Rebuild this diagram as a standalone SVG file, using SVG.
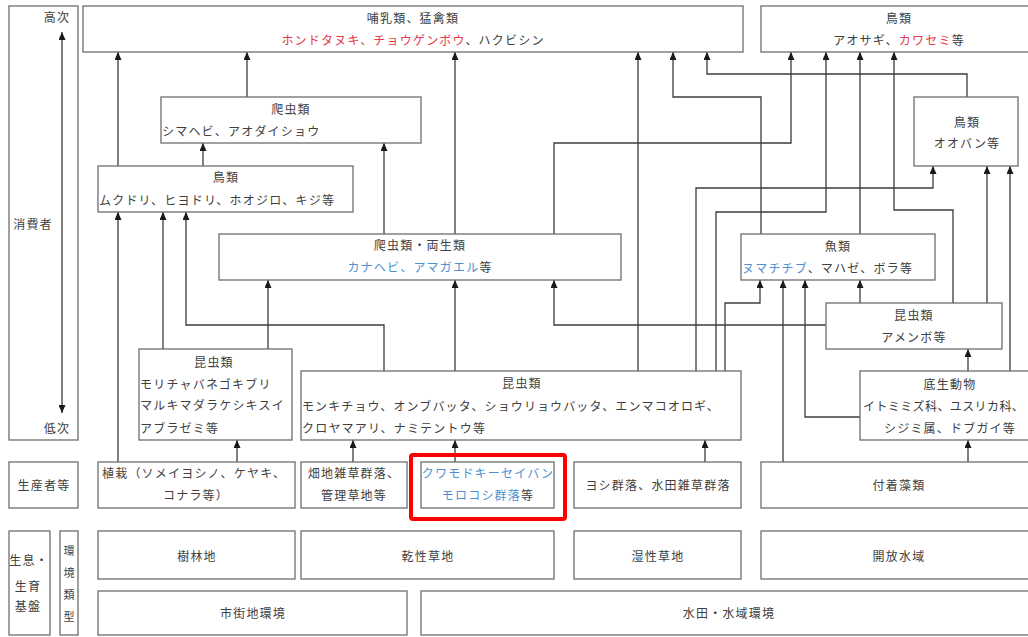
<svg xmlns="http://www.w3.org/2000/svg" width="1028" height="637" viewBox="0 0 1028 637">
<style>
.box{fill:#fff;stroke:#6e6e6e;stroke-width:1.3}
.t{font-family:"Noto Sans CJK JP","Noto Sans CJK SC",sans-serif;font-size:12px;fill:#404040;letter-spacing:1.2px}
.c{text-anchor:middle}
.red{fill:#e8374a}
.blue{fill:#4f8fd0}
.ln{fill:none;stroke:#3c3c3c;stroke-width:1.3;marker-end:url(#ah)}
.hl{fill:none;stroke:#ff0000;stroke-width:4}
</style>
<defs>
<marker id="ah" viewBox="0 0 8 7" refX="8" refY="3.5" markerWidth="8" markerHeight="7" markerUnits="userSpaceOnUse" orient="auto">
<path d="M0,0 L8,3.5 L0,7 z" fill="#1a1a1a"/>
</marker>
<marker id="ahs" viewBox="0 0 8 7" refX="0" refY="3.5" markerWidth="8" markerHeight="7" markerUnits="userSpaceOnUse" orient="auto">
<path d="M8,0 L0,3.5 L8,7 z" fill="#1a1a1a"/>
</marker>
</defs>
<rect x="0" y="0" width="1028" height="637" fill="#fff"/>

<g id="axis">
<rect class="box" x="9" y="6" width="69" height="434"/>
<text class="t c" x="57" y="22">高次</text>
<text class="t c" x="33" y="228.5">消費者</text>
<text class="t c" x="57" y="432.5">低次</text>
<path d="M62,32 V413" fill="none" stroke="#3c3c3c" stroke-width="1.3" marker-start="url(#ahs)" marker-end="url(#ah)"/>
</g>

<g id="connectors">
<path class="ln" d="M118,166 V52"/>
<path class="ln" d="M247,97 V52"/>
<path class="ln" d="M455,234 V52"/>
<path class="ln" d="M638,371 V52"/>
<path class="ln" d="M761,234 V97 H673 V52"/>
<path class="ln" d="M967,97 V74 H707 V52"/>
<path class="ln" d="M554,234 V143 H791 V52"/>
<path class="ln" d="M716,371 V212 H826 V52"/>
<path class="ln" d="M860,234 V52"/>
<path class="ln" d="M953,303 V210 H894 V52"/>
<path class="ln" d="M696,371 V188 H933 V166"/>
<path class="ln" d="M987,303 V166"/>
<path class="ln" d="M1010,371 V166"/>
<path class="ln" d="M203,166 V143"/>
<path class="ln" d="M384,234 V143"/>
<path class="ln" d="M118,462 V212"/>
<path class="ln" d="M163,349 V212"/>
<path class="ln" d="M384,371 V325 H186 V212"/>
<path class="ln" d="M268,349 V280" stroke-width="1.8"/>
<path class="ln" d="M455,371 V280"/>
<path class="ln" d="M826,325 H554 V280"/>
<path class="ln" d="M725,371 V303 H760 V280"/>
<path class="ln" d="M783,462 V280"/>
<path class="ln" d="M860,417 H805 V280"/>
<path class="ln" d="M860,303 V280"/>
<path class="ln" d="M968,371 V349"/>
<path class="ln" d="M968,462 V440"/>
<path class="ln" d="M237,462 V440"/>
<path class="ln" d="M353,462 V440"/>
<path class="ln" d="M455,462 V440"/>
<path class="ln" d="M705,462 V440"/>
</g>

<g id="mammals">
<rect class="box" x="83" y="6" width="660" height="46"/>
<text class="t c" x="413" y="22.5">哺乳類、猛禽類</text>
<text class="t c" x="413" y="44.5"><tspan class="red">ホンドタヌキ、チョウゲンボウ</tspan>、ハクビシン</text>
</g>

<g id="birds-top">
<rect class="box" x="761" y="6" width="280" height="46"/>
<text class="t c" x="899" y="22.5">鳥類</text>
<text class="t c" x="899" y="44.5">アオサギ、<tspan class="red">カワセミ</tspan>等</text>
</g>

<g id="reptiles">
<rect class="box" x="161" y="97" width="260" height="46"/>
<text class="t c" x="291" y="114">爬虫類</text>
<text class="t" x="162" y="136">シマヘビ、アオダイショウ</text>
</g>

<g id="birds-ooban">
<rect class="box" x="914" y="97" width="104" height="69"/>
<text class="t c" x="967" y="126.5">鳥類</text>
<text class="t c" x="967" y="147.5">オオバン等</text>
</g>

<g id="birds-land">
<rect class="box" x="98" y="166" width="255" height="46"/>
<text class="t c" x="226" y="182">鳥類</text>
<text class="t" x="99" y="204.5">ムクドリ、ヒヨドリ、ホオジロ、キジ等</text>
</g>

<g id="reptiles-amphibians">
<rect class="box" x="219" y="234" width="402" height="46"/>
<text class="t c" x="420" y="249.5">爬虫類・両生類</text>
<text class="t c" x="420" y="272"><tspan class="blue">カナヘビ、アマガエル</tspan>等</text>
</g>

<g id="fish">
<rect class="box" x="741" y="234" width="194" height="46"/>
<text class="t c" x="838" y="251">魚類</text>
<text class="t" x="742" y="272.5"><tspan class="blue">ヌマチチブ</tspan>、マハゼ、ボラ等</text>
</g>

<g id="insects-water">
<rect class="box" x="826" y="303" width="176" height="46"/>
<text class="t c" x="914" y="319.5">昆虫類</text>
<text class="t c" x="914" y="341.5">アメンボ等</text>
</g>

<g id="insects-forest">
<rect class="box" x="139" y="349" width="153" height="91"/>
<text class="t c" x="214" y="366.5">昆虫類</text>
<text class="t" x="140" y="388.5">モリチャバネゴキブリ</text>
<text class="t" x="140" y="410">マルキマダラケシキスイ</text>
<text class="t" x="140" y="432.5">アブラゼミ等</text>
</g>

<g id="insects-grass">
<rect class="box" x="301" y="371" width="440" height="69"/>
<text class="t c" x="522" y="387.5">昆虫類</text>
<text class="t" x="302" y="410.5" textLength="418" lengthAdjust="spacing">モンキチョウ、オンブバッタ、ショウリョウバッタ、エンマコオロギ、</text>
<text class="t" x="302" y="432.5">クロヤマアリ、ナミテントウ等</text>
</g>

<g id="benthos">
<rect class="box" x="860" y="371" width="180" height="69"/>
<text class="t c" x="950" y="388.5">底生動物</text>
<text class="t" x="863" y="411" textLength="162" lengthAdjust="spacing">イトミミズ科、ユスリカ科、</text>
<text class="t c" x="950" y="432.5">シジミ属、ドブガイ等</text>
</g>

<g id="producers-label">
<rect class="box" x="9" y="462" width="69" height="46"/>
<text class="t c" x="44" y="489.5">生産者等</text>
</g>

<g id="planting">
<rect class="box" x="98" y="462" width="197" height="46"/>
<text class="t" x="102" y="477.5">植栽（ソメイヨシノ、ケヤキ、</text>
<text class="t c" x="196" y="499.5">コナラ等）</text>
</g>

<g id="field-weeds">
<rect class="box" x="301" y="462" width="106" height="46"/>
<text class="t c" x="354" y="477.5">畑地雑草群落、</text>
<text class="t c" x="354" y="499.5">管理草地等</text>
</g>

<g id="kuwamodoki">
<rect class="box" x="421" y="462" width="133" height="46"/>
<text class="t c" x="488" y="477.5"><tspan class="blue">クワモドキーセイバン</tspan></text>
<text class="t c" x="488" y="499.5"><tspan class="blue">モロコシ群落</tspan>等</text>
<rect class="hl" x="411" y="455" width="154" height="64" rx="2"/>
</g>

<g id="reed">
<rect class="box" x="574" y="462" width="167" height="46"/>
<text class="t c" x="658" y="489.5">ヨシ群落、水田雑草群落</text>
</g>

<g id="algae">
<rect class="box" x="761" y="462" width="280" height="46"/>
<text class="t c" x="899" y="489.5">付着藻類</text>
</g>

<g id="habitat-label">
<rect class="box" x="9" y="531" width="41" height="104"/>
<text class="t c" x="29" y="564.5">生息・</text>
<text class="t c" x="28" y="590.5">生育</text>
<text class="t c" x="28" y="610.5">基盤</text>
</g>

<g id="env-type-label">
<rect class="box" x="60" y="531" width="18" height="104"/>
<text class="t c" x="69" y="554.5" style="font-size:11px;letter-spacing:0">環</text>
<text class="t c" x="69" y="576.5" style="font-size:11px;letter-spacing:0">境</text>
<text class="t c" x="69" y="599" style="font-size:11px;letter-spacing:0">類</text>
<text class="t c" x="69" y="621" style="font-size:11px;letter-spacing:0">型</text>
</g>

<g id="forest">
<rect class="box" x="98" y="531" width="197" height="48"/>
<text class="t c" x="197" y="560.5">樹林地</text>
</g>

<g id="dry-grass">
<rect class="box" x="301" y="531" width="253" height="48"/>
<text class="t c" x="428" y="560.5">乾性草地</text>
</g>

<g id="wet-grass">
<rect class="box" x="574" y="531" width="167" height="48"/>
<text class="t c" x="658" y="560.5">湿性草地</text>
</g>

<g id="open-water">
<rect class="box" x="761" y="531" width="280" height="48"/>
<text class="t c" x="899" y="560.5">開放水域</text>
</g>

<g id="urban">
<rect class="box" x="98" y="591" width="309" height="44"/>
<text class="t c" x="253" y="617.5">市街地環境</text>
</g>

<g id="paddy-water">
<rect class="box" x="421" y="591" width="620" height="44"/>
<text class="t c" x="729" y="617.5">水田・水域環境</text>
</g>
</svg>
